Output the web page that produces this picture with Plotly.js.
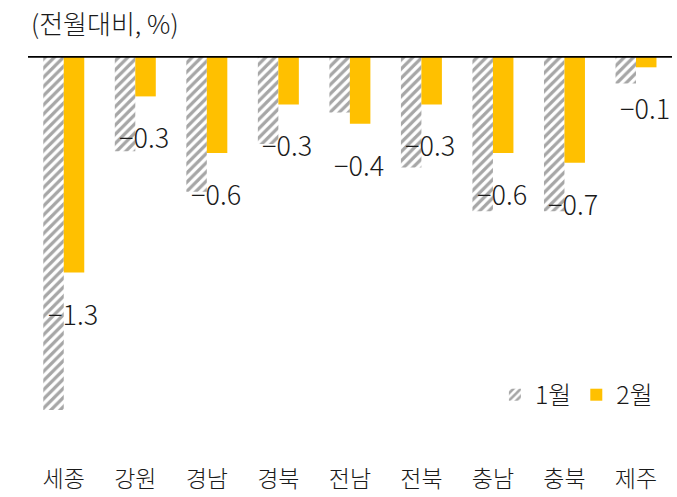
<!DOCTYPE html>
<html><head><meta charset="utf-8">
<script src="https://cdn.plot.ly/plotly-3.0.1.min.js"></script>
<style>html,body{margin:0;padding:0;background:#fff}#chart{width:677px;height:497px}</style>
</head><body><div id="chart"></div>
<script>
const categories = ['세종','강원','경남','경북','전남','전북','충남','충북','제주'];
const jan = [-2.19, -0.59, -0.84, -0.545, -0.35, -0.69, -0.96, -0.96, -0.17];
const feb = [-1.34, -0.25, -0.60, -0.30, -0.42, -0.30, -0.60, -0.66, -0.07];
const febLabels = ['−1.3','−0.3','−0.6','−0.3','−0.4','−0.3','−0.6','−0.7','−0.1'];
const seriesNames = ['1월','2월'];

const FONT = '"Noto Sans CJK KR Light", "Noto Sans CJK KR", "Noto Sans", sans-serif';
const traces = [
  {type:'bar', name:seriesNames[0], x:categories, y:jan,
   marker:{color:'#ffffff', line:{width:0},
     pattern:{shape:'/', fgcolor:'#a6a6a6', bgcolor:'#ffffff', size:6.5, solidity:0.5}},
   hoverinfo:'skip'},
  {type:'bar', name:seriesNames[1], x:categories, y:feb,
   marker:{color:'#ffc000', line:{width:0}}, hoverinfo:'skip'}
];
const annotations = categories.map((c,i)=>({
  x:c, y:feb[i], xref:'x', yref:'y', text:febLabels[i], showarrow:false,
  yanchor:'top', xanchor:'center', xshift:9, yshift:-19,
  font:{family:FONT, size:27, color:'#1a1a1a', weight:300}
}));
const layout = {
  width:677, height:497, paper_bgcolor:'#fff', plot_bgcolor:'#fff',
  margin:{l:28, r:5, t:56, b:37},
  barmode:'group', bargap:0.427, bargroupgap:0,
  title:{text:'(전월대비, %)', x:31/677, xanchor:'left', xref:'container',
         y:1-25/497, yanchor:'middle', yref:'container',
         font:{family:FONT, size:26, color:'#1a1a1a', weight:300}},
  xaxis:{showline:false, ticks:'', showgrid:false, zeroline:false, ticklabelstandoff:3,
         tickfont:{family:FONT, size:23, color:'#1a1a1a', weight:300}},
  yaxis:{range:[-2.5,0], showticklabels:false, showgrid:false, zeroline:false, ticks:''},
  showlegend:true,
  legend:{orientation:'h', x:0.725, xanchor:'left', y:0.161, yanchor:'middle',
          font:{family:FONT, size:25, color:'#1a1a1a', weight:300}, bgcolor:'rgba(0,0,0,0)'},
  shapes:[{type:'line', xref:'paper', x0:0, x1:1, yref:'y', y0:0, y1:0,
           line:{color:'#000', width:3.5}}],
  annotations:annotations
};
Plotly.newPlot('chart', traces, layout, {displayModeBar:false, staticPlot:true});
</script></body></html>
